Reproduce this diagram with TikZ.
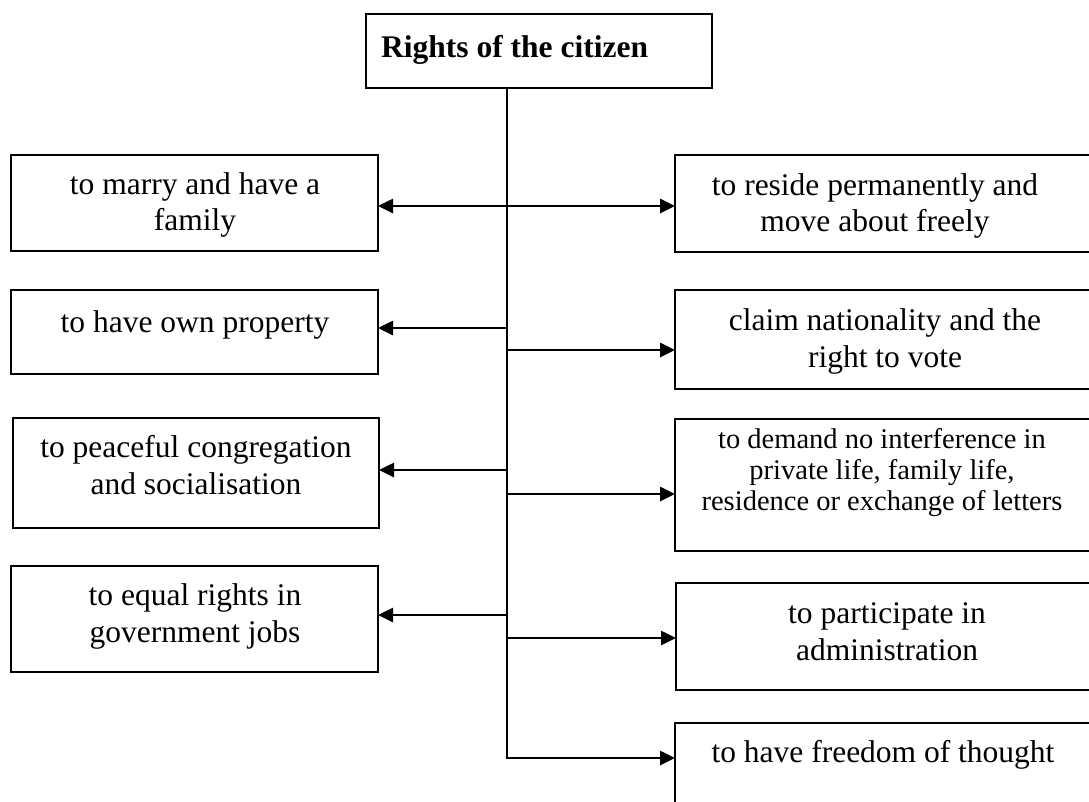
\documentclass[tikz,border=0pt]{standalone}
\usepackage{fontspec}
\setmainfont{Liberation Serif}
\usetikzlibrary{arrows.meta}
\tikzset{
  box/.style={draw, line width=1.8pt, rectangle, inner sep=0pt, outer sep=0pt, anchor=north west},
  txt/.style={inner sep=0pt, align=center, anchor=base, font=\fontsize{31.5}{37}\selectfont},
  small/.style={inner sep=0pt, align=center, anchor=base, font=\fontsize{28.5}{31}\selectfont},
  conn/.style={line width=2.6pt},
  arr/.style={line width=2.6pt, -{Triangle[length=15pt,width=14pt]}},
  darr/.style={line width=2.6pt, {Triangle[length=15pt,width=14pt]}-{Triangle[length=15pt,width=14pt]}}
}
\begin{document}
\begin{tikzpicture}[x=1pt,y=-1pt]
\useasboundingbox (0,0) rectangle (1089,801);
\clip (0,0) rectangle (1089,801);
% title
\node[box, minimum width=346pt, minimum height=74pt] (T) at (366,14) {};
\node[inner sep=0pt, anchor=base west, font=\fontsize{31.5}{37}\selectfont\bfseries] (tT) at (381,57) {Rights of the citizen};
% left boxes
\node[box, minimum width=367pt, minimum height=96pt] (L1) at (11,155) {};
\node[box, minimum width=367pt, minimum height=84pt] (L2) at (11,290) {};
\node[box, minimum width=366pt, minimum height=110pt] (L3) at (13,418) {};
\node[box, minimum width=367pt, minimum height=106pt] (L4) at (11,566) {};
% right boxes
\node[box, minimum width=430pt, minimum height=97pt] (R1) at (675,155) {};
\node[box, minimum width=430pt, minimum height=99pt] (R2) at (675,290) {};
\node[box, minimum width=430pt, minimum height=132pt] (R3) at (675,419) {};
\node[box, minimum width=430pt, minimum height=107pt] (R4) at (676,583) {};
\node[box, minimum width=430pt, minimum height=120pt] (R5) at (675,723) {};
% texts (anchor base = last line's baseline)
\node[txt, font=\fontsize{31.5}{36}\selectfont] (tL1) at (195,230) {to marry and have a\\family};
\node[txt] (tL2) at (195,332) {to have own property};
\node[txt] (tL3) at (196,494) {to peaceful congregation\\and socialisation};
\node[txt] (tL4) at (195,642) {to equal rights in\\government jobs};
\node[txt, font=\fontsize{31.5}{36}\selectfont] (tR1) at (875,231) {to reside permanently and\\move about freely};
\node[txt] (tR2) at (885,367) {claim nationality and the\\right to vote};
\node[small] (tR3) at (882,510) {to demand no interference in\\private life, family life,\\residence or exchange of letters};
\node[txt] (tR4) at (887,660) {to participate in\\administration};
\node[txt] (tR5) at (883,762) {to have freedom of thought};
% connectors
\coordinate (trunk) at (507,0);
\coordinate (b1) at (507,206);
\coordinate (bL2) at (507,328);
\coordinate (bR2) at (507,350);
\coordinate (bL3) at (507,470);
\coordinate (bR3) at (507,494);
\coordinate (bL4) at (507,615);
\coordinate (bR4) at (507,638);
\coordinate (bR5) at (507,758);
\draw[conn] (T.south -| trunk) -- (bR5);
\draw[arr] ([xshift=-1.3pt]bR5) -- (bR5 -| R5.west);
\draw[darr] (b1 -| L1.east) -- (b1 -| R1.west);
\draw[arr] (bL2) -- (bL2 -| L2.east);
\draw[arr] (bR2) -- (bR2 -| R2.west);
\draw[arr] (bL3) -- (bL3 -| L3.east);
\draw[arr] (bR3) -- (bR3 -| R3.west);
\draw[arr] (bL4) -- (bL4 -| L4.east);
\draw[arr] (bR4) -- (bR4 -| R4.west);
\end{tikzpicture}
\end{document}
